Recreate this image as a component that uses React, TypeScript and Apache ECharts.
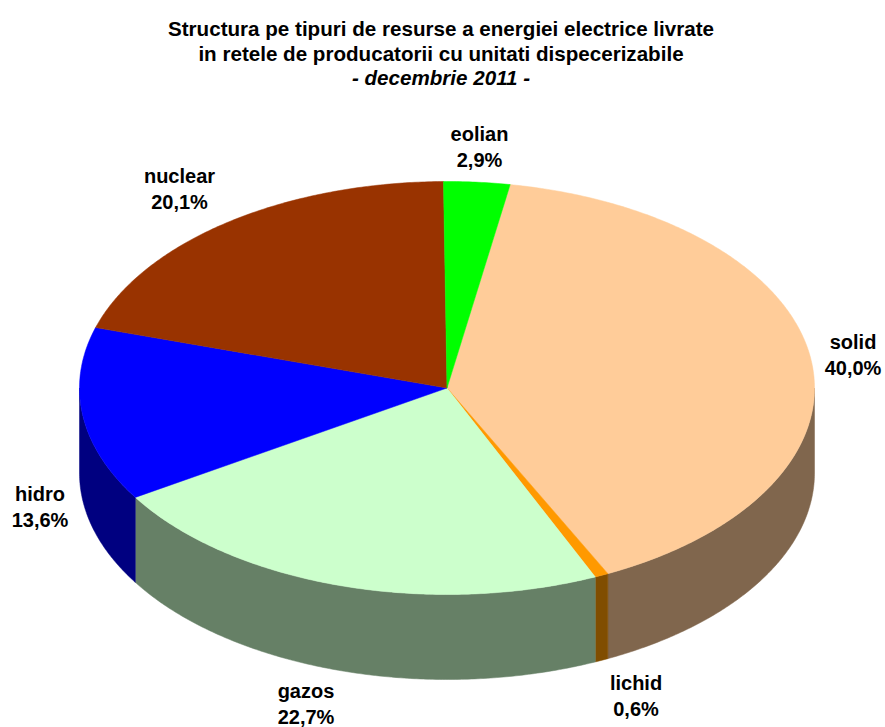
import React, { useEffect, useRef } from "react";
import * as echarts from "echarts";

const categories = ["solid", "lichid", "gazos", "hidro", "nuclear", "eolian"];
const shares = [40.0, 0.6, 22.7, 13.6, 20.1, 2.9];
const labels = ["40,0%", "0,6%", "22,7%", "13,6%", "20,1%", "2,9%"];
const topColors = ["#FFCC99", "#FF9900", "#CCFFCC", "#0000FF", "#993300", "#00FF00"];
const sideColors = ["#80664D", "#804D00", "#668066", "#000080", "#4D1A00", "#008000"];
const titleLines = [
  "Structura pe tipuri de resurse a energiei electrice livrate",
  "in retele de producatorii cu unitati dispecerizabile",
];
const titleDate = "- decembrie 2011 -";

const W = 885;
const H = 727;
const CX = 447;
const CY = 388;
const RX = 367.5;
const RY = 206.5;
const DEPTH = 85;
const START = 9.9;
const FONT = "'Liberation Sans', Arial, sans-serif";
const labelPos: Record<string, [number, number]> = {
  solid: [853, 355],
  lichid: [636, 696],
  gazos: [306, 704],
  hidro: [40, 507],
  nuclear: [179.5, 189],
  eolian: [479.5, 147],
};

const pt = (deg: number, dy = 0): [number, number] => {
  const a = (deg * Math.PI) / 180;
  return [CX + RX * Math.sin(a), CY - RY * Math.cos(a) + dy];
};

function wedge(a0: number, a1: number): [number, number][] {
  const pts: [number, number][] = [[CX, CY]];
  for (let a = a0; a < a1; a += 0.5) pts.push(pt(a));
  pts.push(pt(a1));
  return pts;
}

function wall(a0: number, a1: number): [number, number][] | null {
  // only the part of the rim facing the viewer (90..270 degrees) has a visible wall
  const s = Math.max(a0, 90);
  const e = Math.min(a1, 270);
  if (e <= s) return null;
  const upper: [number, number][] = [];
  const lower: [number, number][] = [];
  for (let a = s; a < e; a += 0.5) {
    upper.push(pt(a));
    lower.push(pt(a, DEPTH));
  }
  upper.push(pt(e));
  lower.push(pt(e, DEPTH));
  return upper.concat(lower.reverse());
}

export default function App() {
  const ref = useRef<HTMLDivElement>(null);
  useEffect(() => {
    const chart = echarts.init(ref.current!, undefined, { renderer: "svg" });
    const total = shares.reduce((s, v) => s + v, 0);
    const starts: number[] = [];
    shares.reduce((acc, v, i) => {
      starts[i] = acc;
      return acc + v;
    }, 0);
    const data = shares.map((v, i) => ({ name: categories[i], value: [v, starts[i]] }));
    const angles = (api: any) => {
      const a0 = START + (api.value(1) / total) * 360;
      const a1 = a0 + (api.value(0) / total) * 360;
      return [a0, a1];
    };
    chart.setOption({
      animation: false,
      backgroundColor: "#fff",
      title: [
        ...titleLines.map((t, i) => ({
          text: t,
          left: 436,
          top: 13 + i * 24.5,
          textAlign: "center" as const,
          textStyle: { fontFamily: FONT, fontSize: 20.6, fontWeight: "bold" as const, color: "#000" },
        })),
        {
          text: titleDate,
          left: 436,
          top: 62,
          textAlign: "center" as const,
          textStyle: { fontFamily: FONT, fontSize: 20.6, fontWeight: "bold" as const, fontStyle: "italic" as const, color: "#000" },
        },
      ],
      series: [
        {
          type: "custom",
          coordinateSystem: "none",
          silent: true,
          z: 1,
          data,
          renderItem: (p: any, api: any) => {
            const [a0, a1] = angles(api);
            const w = wall(a0, a1);
            if (!w) return { type: "group", children: [] };
            return {
              type: "polygon",
              shape: { points: w },
              style: { fill: sideColors[p.dataIndex], stroke: sideColors[p.dataIndex], lineWidth: 0.5 },
            };
          },
        },
        {
          type: "custom",
          coordinateSystem: "none",
          silent: true,
          z: 2,
          data,
          renderItem: (p: any, api: any) => {
            const [a0, a1] = angles(api);
            return {
              type: "polygon",
              shape: { points: wedge(a0, a1) },
              style: { fill: topColors[p.dataIndex], stroke: topColors[p.dataIndex], lineWidth: 0.5 },
            };
          },
        },
        {
          type: "custom",
          coordinateSystem: "none",
          silent: true,
          z: 3,
          data,
          renderItem: (p: any) => {
            const name = categories[p.dataIndex];
            const [x, y] = labelPos[name];
            return {
              type: "text",
              x,
              y,
              style: {
                text: `${name}\n${labels[p.dataIndex]}`,
                fontFamily: FONT,
                fontSize: 20,
                fontWeight: "bold",
                lineHeight: 26,
                fill: "#000",
                align: "center",
                verticalAlign: "middle",
              },
            };
          },
        },
      ],
    });
    return () => chart.dispose();
  }, []);
  return <div ref={ref} style={{ position: "fixed", left: 0, top: 0, width: W, height: H }} />;
}
